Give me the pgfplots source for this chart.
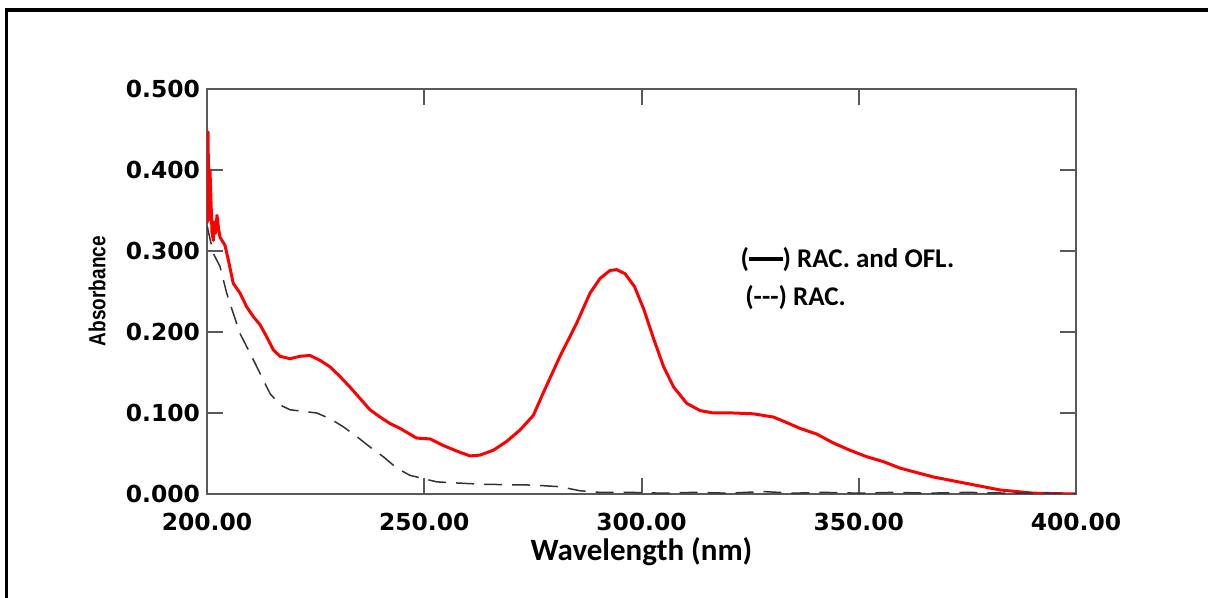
\documentclass[border=0pt]{standalone}
\usepackage{fontspec}
\setmainfont{Liberation Sans}
\newfontfamily\tickfont{DejaVu Sans}
\newfontfamily\calfont{Carlito}
\newfontfamily\narrowfont{Liberation Sans}[FakeStretch=0.82]
\usepackage{pgfplots}
\pgfplotsset{compat=1.18}

% RAC. and OFL. (solid red)
\pgfplotstableread{
x y
200.00 0.334
200.23 0.447
200.46 0.338
200.69 0.400
201.15 0.323
201.45 0.313
201.61 0.336
201.96 0.322
202.30 0.344
202.65 0.328
202.99 0.317
204.14 0.307
204.90 0.289
206.05 0.260
207.60 0.248
209.14 0.231
210.66 0.219
212.20 0.209
213.74 0.194
215.26 0.178
216.80 0.170
219.10 0.167
221.40 0.170
223.71 0.171
226.01 0.165
228.31 0.157
230.61 0.145
232.91 0.132
235.21 0.118
237.51 0.104
239.82 0.095
242.12 0.087
244.42 0.081
248.26 0.069
251.32 0.068
254.32 0.060
257.47 0.053
260.53 0.047
262.83 0.048
265.89 0.054
268.98 0.065
272.04 0.079
275.10 0.097
277.40 0.125
281.24 0.170
285.09 0.211
288.15 0.248
290.45 0.266
292.75 0.276
294.30 0.277
296.20 0.272
298.40 0.256
300.60 0.227
302.90 0.190
305.10 0.157
307.40 0.132
310.40 0.112
313.46 0.103
316.53 0.100
321.13 0.100
325.73 0.099
330.33 0.095
332.63 0.090
336.48 0.081
340.32 0.074
344.14 0.063
347.99 0.054
351.83 0.046
355.65 0.040
359.49 0.032
367.16 0.021
374.84 0.013
382.51 0.005
390.18 0.001
400.00 0.000
}\mixdata

% RAC. (dashed)
\pgfplotstableread{
x y
200.07 0.330
201.45 0.297
202.99 0.281
204.53 0.248
206.05 0.223
207.60 0.198
209.90 0.174
212.20 0.149
214.50 0.124
216.80 0.110
219.10 0.104
222.16 0.102
225.25 0.100
228.31 0.093
231.37 0.083
234.45 0.071
237.51 0.058
240.58 0.046
243.66 0.032
246.72 0.023
249.78 0.019
252.87 0.015
255.93 0.014
263.52 0.012
275.03 0.011
281.24 0.009
285.85 0.004
290.45 0.002
297.35 0.002
305.00 0.001
312.00 0.002
320.00 0.001
328.00 0.003
335.00 0.001
342.00 0.002
350.00 0.001
358.00 0.002
366.00 0.001
375.00 0.002
385.00 0.001
393.00 0.001
400.00 0.000
}\racdata

\begin{document}
\begin{tikzpicture}
\useasboundingbox (0,0) rectangle (604pt,299pt);
\draw[line width=1.75pt] (3.25pt,-5pt) -- (3.25pt,294pt) -- (610pt,294pt);

\begin{axis}[
    scale only axis,
    width=434.5pt, height=202.5pt,
    at={(103.5pt,52pt)}, anchor=south west,
    xmin=200, xmax=400,
    ymin=0, ymax=0.5,
    xtick={200,250,300,350,400},
    ytick={0,0.1,0.2,0.3,0.4,0.5},
    tick align=inside,
    xtick pos=both, ytick pos=both,
    xticklabel pos=lower, yticklabel pos=left,
    major tick length=8pt,
    axis line style={draw=black!65, line width=1pt},
    tick style={draw=black!65, line width=1pt},
    scaled ticks=false,
    /pgf/number format/assume math mode=true,
    xticklabel style={font=\tickfont\bfseries\fontsize{11.7}{14}\selectfont, yshift=-8.5pt,
        inner sep=1pt, /pgf/number format/.cd, fixed, fixed zerofill, precision=2},
    yticklabel style={font=\tickfont\bfseries\fontsize{11.7}{14}\selectfont,
        /pgf/number format/.cd, fixed, fixed zerofill, precision=3},
    xlabel={Wavelength (nm)},
    xlabel style={font=\calfont\bfseries\fontsize{15.5}{17}\selectfont, inner sep=0pt,
        at={(axis description cs:0.5,-0.142)}, anchor=center},
    ylabel={Absorbance},
    ylabel style={font=\narrowfont\bfseries\fontsize{11.6}{13}\selectfont,
        at={(axis description cs:-0.1266,0.501)}, anchor=center, rotate=0},
]
\addplot[red, line width=1.5pt, line join=round] table {\mixdata};
\addplot[black!80, line width=0.75pt, dash pattern=on 9pt off 5pt] table {\racdata};

\node[anchor=west, inner sep=0pt, font=\calfont\bfseries\fontsize{13.5}{15}\selectfont]
    at (axis cs:322.7,0.290) {(\rule[0.23em]{1.25em}{0.13em}) RAC. and OFL.};
\node[anchor=west, inner sep=0pt, font=\calfont\bfseries\fontsize{13.5}{15}\selectfont]
    at (axis cs:323.8,0.243) {(-{}-{}-) RAC.};
\end{axis}
\end{tikzpicture}
\end{document}
